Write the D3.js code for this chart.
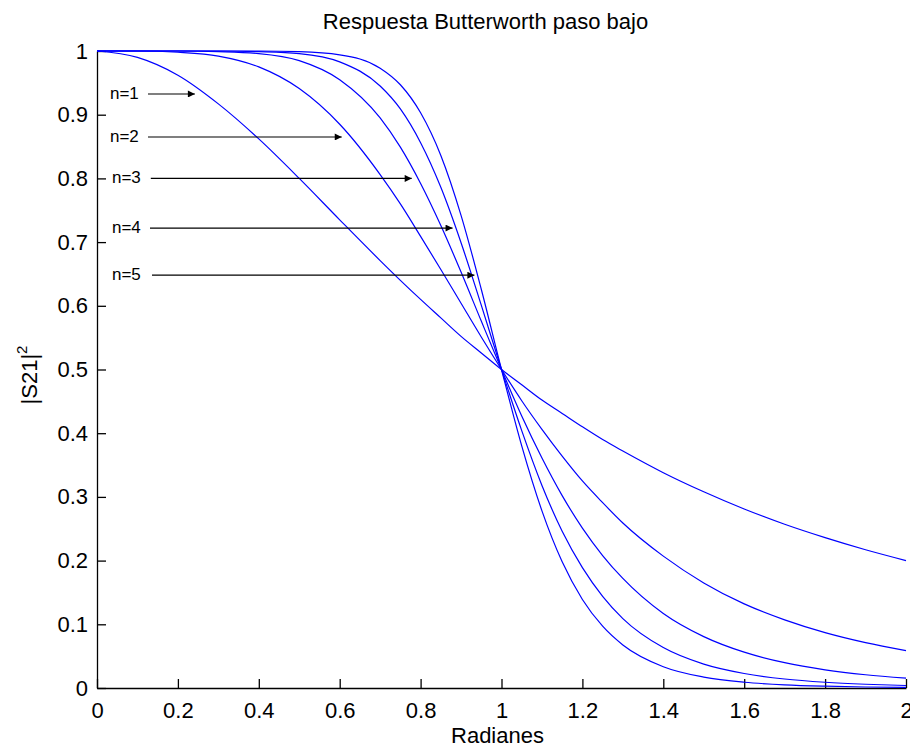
<!DOCTYPE html>
<html>
<head>
<meta charset="utf-8">
<script src="https://cdn.jsdelivr.net/npm/d3@7"></script>
<style>
  html, body { margin: 0; padding: 0; background: #fff; }
  svg { display: block; }
  text { font-family: "Liberation Sans", Arial, sans-serif; fill: #000; }
</style>
</head>
<body>
<svg id="chart" width="910" height="748"></svg>
<script>
// ---- data ----
const xValues = [0, 0.1, 0.2, 0.3, 0.4, 0.5, 0.6, 0.7, 0.75, 0.8, 0.85, 0.9, 0.95, 1.0,
                 1.05, 1.1, 1.15, 1.2, 1.25, 1.3, 1.4, 1.5, 1.6, 1.7, 1.8, 1.9, 2.0];
const seriesN1 = [1, 0.990, 0.962, 0.917, 0.862, 0.800, 0.735, 0.671, 0.640, 0.610, 0.581, 0.552, 0.526, 0.5,
                  0.476, 0.452, 0.431, 0.410, 0.390, 0.372, 0.338, 0.308, 0.281, 0.257, 0.236, 0.217, 0.200];
const seriesN2 = [1, 1.000, 0.998, 0.992, 0.975, 0.941, 0.885, 0.806, 0.760, 0.709, 0.657, 0.604, 0.551, 0.5,
                  0.451, 0.406, 0.364, 0.325, 0.291, 0.259, 0.207, 0.165, 0.132, 0.107, 0.087, 0.0713, 0.0588];
const seriesN3 = [1, 1, 1.000, 0.999, 0.996, 0.985, 0.955, 0.895, 0.849, 0.792, 0.726, 0.653, 0.576, 0.5,
                  0.427, 0.361, 0.302, 0.251, 0.208, 0.172, 0.117, 0.0807, 0.0563, 0.0398, 0.0286, 0.0208, 0.0154];
const seriesN4 = [1, 1, 1, 1.000, 0.999, 0.996, 0.983, 0.945, 0.909, 0.856, 0.786, 0.699, 0.601, 0.5,
                  0.404, 0.318, 0.246, 0.189, 0.144, 0.109, 0.0635, 0.0375, 0.0228, 0.0141, 0.0090, 0.0059, 0.0039];
const seriesN5 = [1, 1, 1, 1, 1.000, 0.999, 0.994, 0.973, 0.947, 0.903, 0.836, 0.742, 0.626, 0.5,
                  0.380, 0.278, 0.198, 0.139, 0.097, 0.0676, 0.0334, 0.0171, 0.0090, 0.0049, 0.0028, 0.0016, 0.00098];

const xTicks = [0, 0.2, 0.4, 0.6, 0.8, 1, 1.2, 1.4, 1.6, 1.8, 2];
const xTickLabels = ["0", "0.2", "0.4", "0.6", "0.8", "1", "1.2", "1.4", "1.6", "1.8", "2"];
const yTicks = [0, 0.1, 0.2, 0.3, 0.4, 0.5, 0.6, 0.7, 0.8, 0.9, 1];
const yTickLabels = ["0", "0.1", "0.2", "0.3", "0.4", "0.5", "0.6", "0.7", "0.8", "0.9", "1"];

// annotations (data units)
const annotLabels = ["n=1", "n=2", "n=3", "n=4", "n=5"];
const annotLabelX = [0.032, 0.032, 0.037, 0.037, 0.037];
const annotArrowStartX = [0.126, 0.126, 0.133, 0.131, 0.136];
const annotArrowEndX = [0.242, 0.605, 0.778, 0.879, 0.933];
const annotY = [0.9325, 0.865, 0.800, 0.722, 0.648];

const titleText = "Respuesta Butterworth paso bajo";
const xLabelText = "Radianes";

// ---- drawing ----
const svg = d3.select("#chart");
const x = d3.scaleLinear().domain([0, 2]).range([97, 906]);
const y = d3.scaleLinear().domain([0, 1]).range([688, 51]);

const defs = svg.append("defs");
defs.append("marker")
  .attr("id", "arrowhead")
  .attr("viewBox", "0 0 10 10")
  .attr("refX", 10).attr("refY", 5)
  .attr("markerWidth", 9).attr("markerHeight", 7)
  .attr("markerUnits", "userSpaceOnUse")
  .attr("orient", "auto")
  .append("path").attr("d", "M0,0 L10,5 L0,10 Z").attr("fill", "#000");

// axes
const xAxis = d3.axisBottom(x).tickValues(xTicks)
  .tickFormat((d, i) => xTickLabels[i]).tickSizeInner(-9).tickSizeOuter(0).tickPadding(14);
const yAxis = d3.axisLeft(y).tickValues(yTicks)
  .tickFormat((d, i) => yTickLabels[i]).tickSizeInner(-9).tickSizeOuter(0).tickPadding(9);

const gx = svg.append("g").attr("transform", `translate(0,${y(0)})`).call(xAxis);
const gy = svg.append("g").attr("transform", `translate(${x(0)},0)`).call(yAxis);
[gx, gy].forEach(g => {
  g.selectAll("path.domain").attr("stroke", "#000").attr("stroke-width", 1.3);
  g.selectAll(".tick line").attr("stroke", "#000").attr("stroke-width", 1.3);
  g.selectAll(".tick text").attr("font-size", 22).attr("font-family", "Liberation Sans, Arial, sans-serif").attr("fill", "#111");
});
gx.selectAll(".tick text").attr("dy", "0.71em");

// curves
const allSeries = [seriesN1, seriesN2, seriesN3, seriesN4, seriesN5];
const line = d3.line().x(d => x(d[0])).y(d => y(d[1])).curve(d3.curveMonotoneX);
svg.append("g").selectAll("path.curve")
  .data(allSeries)
  .join("path")
  .attr("class", "curve")
  .attr("d", s => line(xValues.map((xv, i) => [xv, s[i]])))
  .attr("fill", "none")
  .attr("stroke", "#0000ff")
  .attr("stroke-width", 1.2);

// annotations
const ann = svg.append("g");
annotLabels.forEach((lab, i) => {
  ann.append("text")
    .attr("x", x(annotLabelX[i]))
    .attr("y", y(annotY[i]) + 5)
    .attr("font-size", 17)
    .text(lab);
  ann.append("line")
    .attr("x1", x(annotArrowStartX[i])).attr("y1", y(annotY[i]))
    .attr("x2", x(annotArrowEndX[i])).attr("y2", y(annotY[i]))
    .attr("stroke", "#000").attr("stroke-width", 1.2)
    .attr("marker-end", "url(#arrowhead)");
});

// title and labels
svg.append("text")
  .attr("x", x(1) - 16).attr("y", 29)
  .attr("text-anchor", "middle").attr("font-size", 22)
  .text(titleText);

svg.append("text")
  .attr("x", x(1) - 4).attr("y", 743)
  .attr("text-anchor", "middle").attr("font-size", 22)
  .text(xLabelText);

const yl = svg.append("text")
  .attr("transform", `translate(37,375) rotate(-90)`)
  .attr("text-anchor", "middle").attr("font-size", 22);
yl.append("tspan").text("|S21|");
yl.append("tspan").attr("font-size", 15).attr("dy", "-0.7em").text("2");
</script>
</body>
</html>
